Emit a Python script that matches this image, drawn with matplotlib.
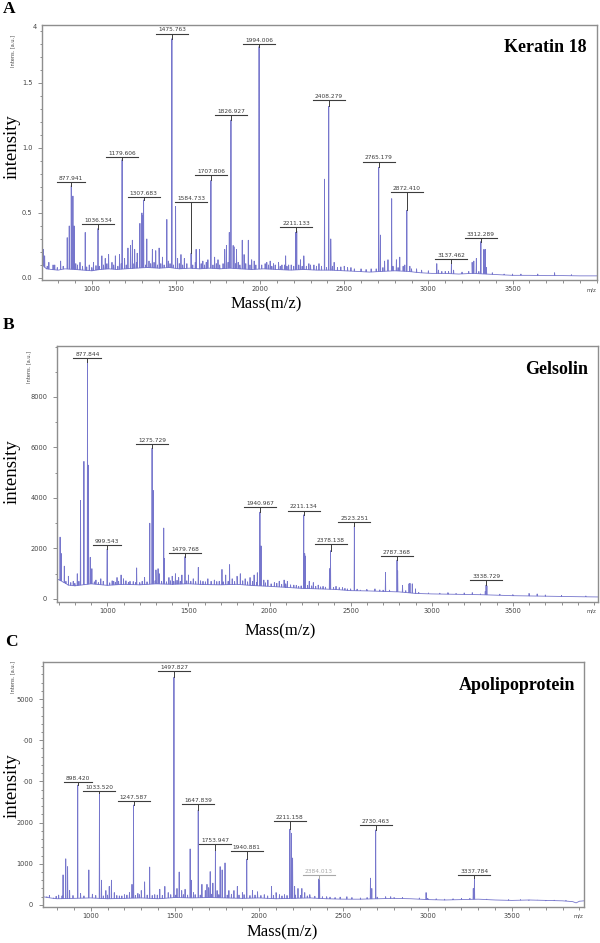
import numpy as np
import matplotlib
matplotlib.use("Agg")
import matplotlib.pyplot as plt
from matplotlib.ticker import FixedLocator, MultipleLocator

# ------------------------------------------------------------------ data
# Panel A : Keratin 18 (intensity x10^4)
a_base_mz = [706, 730, 760, 800, 840, 900, 950, 1000, 1050, 1100, 1150, 1200, 1260, 1330, 1400,
             1460, 1520, 1580, 1640, 1700, 1760, 1820, 1880, 1950, 2020, 2100, 2180, 2260, 2340,
             2420, 2500, 2580, 2650, 2720, 2800, 2880, 2950, 3020, 3100, 3180, 3260, 3340, 3420,
             3500, 3600, 3700, 3800, 3900, 4000]
a_base_int = [0.10, 0.07, 0.065, 0.06, 0.07, 0.065, 0.06, 0.055, 0.065, 0.07, 0.065, 0.07, 0.075,
              0.08, 0.075, 0.08, 0.07, 0.075, 0.07, 0.075, 0.07, 0.075, 0.07, 0.065, 0.07, 0.065,
              0.06, 0.065, 0.06, 0.06, 0.055, 0.05, 0.045, 0.05, 0.055, 0.05, 0.04, 0.035, 0.035,
              0.03, 0.035, 0.03, 0.025, 0.02, 0.02, 0.018, 0.018, 0.016, 0.016]
a_peak_mz = [712, 854, 866, 878, 888, 895, 961, 1037, 1180, 1241, 1286, 1298, 1303, 1308, 1327,
             1446, 1476, 1498, 1590, 1708, 1817, 1827, 1840, 1894, 1930, 1994, 2152, 2211, 2218,
             2383, 2408, 2420, 2705, 2715, 2782, 2872, 3050, 3137, 3260, 3312, 3330, 3338]
a_peak_int = [0.22, 0.31, 0.40, 0.71, 0.63, 0.40, 0.35, 0.38, 0.91, 0.29, 0.42, 0.50, 0.48, 0.60,
              0.30, 0.45, 1.84, 0.55, 0.19, 0.75, 0.35, 1.215, 0.25, 0.29, 0.29, 1.78, 0.17, 0.35,
              0.36, 0.76, 1.32, 0.30, 0.85, 0.33, 0.61, 0.52, 0.11, 0.115, 0.12, 0.28, 0.22, 0.22]
a_noise = [(720, 0.17), (745, 0.12), (780, 0.10), (815, 0.13), (905, 0.11), (930, 0.12),
           (985, 0.10), (1010, 0.12), (1060, 0.17), (1080, 0.15), (1100, 0.18), (1120, 0.12),
           (1140, 0.17), (1165, 0.18), (1195, 0.15), (1215, 0.23), (1230, 0.25), (1255, 0.22),
           (1270, 0.19), (1340, 0.13), (1360, 0.22), (1380, 0.21), (1400, 0.23), (1420, 0.16),
           (1455, 0.13), (1510, 0.15), (1530, 0.18), (1550, 0.15), (1620, 0.22), (1640, 0.22),
           (1660, 0.13), (1690, 0.14), (1730, 0.16), (1750, 0.14), (1790, 0.22), (1800, 0.25),
           (1845, 0.24), (1860, 0.22), (1870, 0.12), (1905, 0.18), (1950, 0.14), (1965, 0.13),
           (2040, 0.12), (2060, 0.13), (2080, 0.11), (2110, 0.12), (2130, 0.10), (2170, 0.10),
           (2240, 0.14), (2260, 0.17), (2290, 0.11), (2320, 0.10), (2350, 0.11), (2440, 0.12),
           (2500, 0.09), (2540, 0.08), (2660, 0.07), (2740, 0.13), (2760, 0.14), (2810, 0.14),
           (2830, 0.16), (2850, 0.09), (2890, 0.09), (2930, 0.07), (3060, 0.06), (3100, 0.05),
           (3150, 0.06), (3270, 0.13), (3285, 0.15), (3345, 0.08), (3450, 0.03), (3750, 0.04),
           (735, 0.09), (770, 0.10), (795, 0.08), (830, 0.09), (915, 0.10), (945, 0.09),
           (970, 0.085), (1000, 0.08), (1025, 0.095), (1045, 0.09), (1070, 0.10), (1090, 0.11),
           (1130, 0.10), (1155, 0.09), (1175, 0.11), (1205, 0.10), (1245, 0.11), (1265, 0.12),
           (1320, 0.10), (1350, 0.11), (1370, 0.12), (1390, 0.10), (1410, 0.11), (1430, 0.10),
           (1465, 0.11), (1485, 0.10), (1520, 0.11), (1540, 0.10), (1565, 0.11), (1600, 0.10),
           (1615, 0.12), (1650, 0.11), (1670, 0.10), (1680, 0.12), (1720, 0.10), (1740, 0.11),
           (1760, 0.10), (1780, 0.11), (1810, 0.12), (1855, 0.11), (1880, 0.10), (1915, 0.11),
           (1940, 0.10), (1975, 0.10), (2010, 0.10), (2030, 0.11), (2050, 0.10), (2070, 0.09),
           (2090, 0.10), (2120, 0.09), (2145, 0.10), (2160, 0.09), (2185, 0.10), (2200, 0.09),
           (2230, 0.10), (2250, 0.09), (2275, 0.09), (2300, 0.10), (2335, 0.09), (2365, 0.09),
           (2395, 0.08), (2430, 0.09), (2460, 0.08), (2480, 0.085), (2520, 0.08), (2560, 0.07),
           (2600, 0.07), (2630, 0.065), (2690, 0.07), (2730, 0.08), (2790, 0.09), (2820, 0.08),
           (2860, 0.10), (2900, 0.07), (2960, 0.06), (3000, 0.055), (3080, 0.05), (3120, 0.05),
           (3200, 0.045), (3240, 0.05), (3300, 0.05), (3380, 0.04), (3500, 0.03), (3550, 0.03),
           (3650, 0.03), (3850, 0.025)]
a_label_text = ["877.941", "1036.534", "1179.606", "1307.683", "1475.763", "1584.733", "1707.806",
                "1826.927", "1994.006", "2211.133", "2408.279", "2765.179", "2872.410", "3137.462",
                "3312.289"]
a_label_mz = [878, 1037, 1180, 1308, 1476, 1590, 1708, 1827, 1994, 2214, 2408, 2705, 2872, 3137, 3312]
a_label_y = [0.74, 0.415, 0.93, 0.62, 1.88, 0.585, 0.79, 1.25, 1.80, 0.39, 1.37, 0.895, 0.66, 0.146, 0.31]
a_yticks = [0.0, 0.5, 1.0, 1.5]
a_yticklabels = ["0.0", "0.5", "1.0", "1.5"]

# Panel B : Gelsolin
b_base_mz = [690, 720, 760, 800, 900, 1000, 1100, 1200, 1300, 1400, 1500, 1600, 1700, 1800, 1900,
             2000, 2100, 2200, 2300, 2400, 2500, 2600, 2700, 2800, 2900, 3000, 3100, 3200, 3300,
             3400, 3500, 3600, 3700, 3800, 3900, 4025]
b_base_int = [800, 700, 550, 520, 600, 540, 580, 560, 600, 580, 600, 570, 560, 580, 530, 500, 460,
              420, 400, 380, 330, 320, 300, 280, 220, 200, 190, 180, 170, 150, 130, 120, 110, 100,
              90, 80]
b_peak_mz = [709, 716, 735, 835, 856, 878, 884, 895, 905, 999.5, 1181, 1262, 1276, 1283, 1313, 1348,
             1352, 1479, 1561, 1707, 1754, 1925, 1941, 1948, 2211, 2217, 2221, 2370, 2376, 2523,
             2715, 2786, 2790, 2820, 2860, 2866, 3335, 3340]
b_peak_int = [2450, 1800, 1300, 3900, 5450, 9400, 5300, 1650, 1200, 1980, 1230, 3000, 5970, 4300,
              1200, 2810, 1600, 1680, 1250, 1170, 1360, 1040, 3440, 2100, 3330, 1800, 1700, 1200,
              1910, 2890, 1050, 1540, 1120, 540, 600, 620, 550, 520]
b_noise = [(760, 900), (790, 700), (815, 1000), (930, 750), (960, 800), (1040, 700), (1060, 850),
           (1085, 950), (1100, 800), (1140, 700), (1200, 650), (1230, 850), (1300, 1150),
           (1320, 1000), (1380, 850), (1400, 900), (1420, 1000), (1440, 850), (1460, 950),
           (1500, 950), (1530, 800), (1590, 700), (1620, 800), (1660, 750), (1690, 700),
           (1730, 950), (1770, 800), (1800, 900), (1820, 1000), (1850, 800), (1880, 850),
           (1905, 950), (1965, 750), (1990, 750), (2030, 650), (2060, 700), (2090, 750),
           (2110, 700), (2150, 550), (2180, 500), (2245, 700), (2270, 650), (2300, 550),
           (2330, 500), (2410, 500), (2450, 450), (2480, 400), (2560, 350), (2650, 400),
           (2700, 350), (2880, 600), (2900, 400), (3100, 250), (3250, 250), (3330, 300),
           (3600, 220), (3650, 200),
           (745, 700), (775, 650), (800, 620), (825, 700), (920, 680), (945, 650), (975, 700),
           (1015, 640), (1030, 720), (1050, 660), (1070, 700), (1115, 720), (1130, 660),
           (1160, 690), (1175, 650), (1215, 700), (1245, 680), (1295, 720), (1335, 700),
           (1365, 680), (1390, 720), (1410, 700), (1430, 740), (1450, 700), (1490, 720),
           (1515, 700), (1545, 690), (1575, 720), (1605, 680), (1640, 700), (1675, 690),
           (1715, 680), (1745, 700), (1785, 690), (1835, 720), (1865, 680), (1895, 700),
           (1920, 650), (1975, 640), (2010, 600), (2045, 620), (2075, 580), (2100, 600),
           (2130, 560), (2165, 540), (2195, 520), (2235, 540), (2260, 520), (2285, 500),
           (2315, 480), (2345, 470), (2395, 460), (2430, 450), (2465, 420), (2500, 400),
           (2540, 390), (2600, 380), (2680, 360), (2740, 350), (2840, 330), (2920, 260),
           (2980, 240), (3050, 230), (3150, 220), (3200, 240), (3300, 200), (3420, 190),
           (3500, 170), (3700, 160), (3800, 140), (3950, 120)]
b_label_text = ["877.844", "999.543", "1275.729", "1479.768", "1940.967", "2211.134", "2378.138",
                "2523.251", "2787.368", "3338.729"]
b_label_mz = [878, 999.5, 1276, 1479, 1941, 2211, 2376, 2523, 2786, 3335]
b_label_y = [9555, 2140, 6140, 1835, 3640, 3500, 2180, 3050, 1715, 750]
b_yticks = [0, 2000, 4000, 6000, 8000]
b_yticklabels = ["0", "2000", "4000", "6000", "8000"]

# Panel C : Apolipoprotein
c_base_mz = [717, 760, 800, 900, 1000, 1100, 1200, 1300, 1400, 1500, 1600, 1700, 1800, 1900, 2000,
             2100, 2200, 2300, 2400, 2500, 2600, 2700, 2800, 2900, 3000, 3100, 3200, 3300, 3400,
             3500, 3600, 3700, 3800, 3860, 3880, 3900, 3927]
c_base_int = [200, 170, 150, 160, 170, 150, 160, 170, 150, 180, 170, 180, 170, 160, 170, 150, 160,
              170, 150, 140, 140, 150, 160, 150, 130, 120, 130, 140, 120, 110, 120, 110, 100, 80,
              50, 90, 100]
c_peak_mz = [836, 852, 863, 923, 989, 1052, 1064, 1110, 1123, 1245, 1254, 1320, 1350, 1440, 1494,
             1512, 1525, 1590, 1597, 1638, 1660, 1709, 1725, 1740, 1768, 1780, 1797, 1926, 2073,
             2182, 2191, 2198, 2210, 2253, 2353, 2358, 2660, 2668, 2691, 2990, 3270, 3277]
c_peak_int = [730, 1120, 930, 2910, 850, 2710, 600, 450, 600, 500, 2427, 560, 920, 450, 5530, 400,
              800, 1360, 600, 2305, 500, 810, 530, 1335, 930, 850, 1020, 1110, 450, 1840, 1740,
              1140, 450, 400, 630, 620, 650, 400, 1820, 300, 400, 650]
c_noise = [(740, 200), (780, 170), (810, 240), (875, 350), (940, 280), (1010, 260), (1090, 350),
           (1140, 300), (1170, 220), (1200, 250), (1230, 300), (1280, 280), (1300, 350),
           (1380, 250), (1410, 380), (1460, 300), (1540, 350), (1560, 380), (1610, 300),
           (1680, 350), (1690, 500), (1700, 420), (1750, 350), (1820, 350), (1850, 350),
           (1870, 450), (1900, 300), (1960, 350), (1990, 320), (2030, 250), (2100, 300),
           (2120, 250), (2150, 250), (2230, 400), (2270, 300), (2300, 250), (2400, 200),
           (2450, 180), (2520, 200), (2600, 170), (2750, 200), (2800, 180), (2900, 150),
           (3050, 150), (3100, 140), (3200, 160), (3400, 120), (3600, 110), (3700, 100),
           (755, 230), (795, 210), (830, 220), (895, 230), (960, 220), (1030, 230), (1075, 220),
           (1100, 240), (1155, 230), (1185, 220), (1215, 240), (1265, 230), (1290, 250),
           (1335, 240), (1365, 230), (1395, 240), (1425, 230), (1475, 250), (1505, 240),
           (1550, 250), (1575, 240), (1620, 250), (1650, 240), (1715, 260), (1760, 250),
           (1810, 240), (1835, 260), (1880, 240), (1910, 250), (1945, 230), (1975, 240),
           (2010, 230), (2050, 220), (2085, 230), (2135, 220), (2165, 230), (2215, 240),
           (2245, 230), (2285, 220), (2330, 210), (2375, 200), (2420, 190), (2480, 190),
           (2550, 180), (2640, 180), (2700, 190), (2780, 200), (2850, 180), (2950, 170),
           (3000, 160), (3150, 150), (3250, 160), (3350, 140), (3480, 130), (3550, 130),
           (3650, 120), (3750, 115), (3820, 110)]
c_label_text = ["898.420", "1033.520", "1247.587", "1497.827", "1647.839", "1753.947", "1940.881",
                "2211.158", "2384.013", "2730.463", "3337.784"]
c_label_mz = [923, 1052, 1254, 1494, 1638, 1740, 1926, 2182, 2355, 2691, 3277]
c_label_y = [2990, 2775, 2524, 5690, 2444, 1480, 1310, 2046, 730, 1940, 730]
c_yticks = [0, 1000, 2000, 3000, 4000, 5000]
c_yticklabels = ["0", "1000", "2000", "·00", "·00", "5000"]

x_ticks = [1000, 1500, 2000, 2500, 3000, 3500]
x_ticklabels = ["1000", "1500", "2000", "2500", "3000", "3500"]

# ------------------------------------------------------------------ style
W, H = 600, 943
SPEC = "#7676cc"
SPINE = "#8e8e8e"
LABC = "#3c3c3c"
SERIF = ["Liberation Serif", "DejaVu Serif"]

fig = plt.figure(figsize=(W / 100, H / 100), dpi=100)


def add_axes(l, r, t, b):
    return fig.add_axes([l / W, 1 - b / H, (r - l) / W, (b - t) / H])


def draw_panel(ax, xlim, ylim, base_mz, base_int, peak_mz, peak_int, noise,
               lab_text, lab_mz, lab_y, lab_col, yticks, yticklabels, yminor):
    ax.set_xlim(xlim)
    ax.set_ylim(ylim)
    base_mz = np.asarray(base_mz, float)
    base_int = np.asarray(base_int, float)
    noise_mz = np.array([p[0] for p in noise], float)
    noise_int = np.array([p[1] for p in noise], float)
    sp_mz = np.concatenate([np.asarray(peak_mz, float), noise_mz])
    sp_int = np.concatenate([np.asarray(peak_int, float), noise_int])
    # continuous spectrum trace: baseline + narrow spikes
    xs = list(base_mz)
    ys = list(base_int)
    for m, v in zip(sp_mz, sp_int):
        b0 = np.interp(m, base_mz, base_int)
        xs += [m - 1.5, m, m + 1.5]
        ys += [b0, v, b0]
    order = np.argsort(xs, kind="stable")
    xs = np.asarray(xs)[order]
    ys = np.asarray(ys)[order]
    ax.plot(xs, ys, color=SPEC, lw=0.6)

    # peak labels
    ax_w_px = ax.get_position().width * W
    px_per_mz = ax_w_px / (xlim[1] - xlim[0])
    pk = np.asarray(peak_mz, float)
    for t, m, y, c in zip(lab_text, lab_mz, lab_y, lab_col):
        tip = peak_int[int(np.argmin(np.abs(pk - m)))]
        half = 4.0 * len(t) / 2 / px_per_mz
        ax.plot([m - half, m + half], [y, y], color=c, lw=0.8)
        ax.plot([m, m], [y, tip], color=c, lw=0.7)
        ax.annotate(t, (m, y), xytext=(0, 0.8), textcoords="offset points",
                    ha="center", va="bottom", fontsize=4.2, color=c)

    for s in ax.spines.values():
        s.set_color(SPINE)
        s.set_linewidth(1.0)
    ax.xaxis.set_major_locator(FixedLocator(x_ticks))
    ax.set_xticklabels(x_ticklabels)
    ax.xaxis.set_minor_locator(MultipleLocator(100))
    ax.yaxis.set_major_locator(FixedLocator(yticks))
    ax.set_yticklabels(yticklabels)
    ax.yaxis.set_minor_locator(MultipleLocator(yminor))
    ax.tick_params(which="both", direction="out", color=SPINE, labelsize=4.8,
                   labelcolor="#444444", width=0.7)
    ax.tick_params(which="major", length=3, pad=1.5)
    ax.tick_params(which="minor", length=1.8)
    ax.tick_params(axis="y", pad=4)
    ax.set_facecolor("white")


axA = add_axes(42.3, 597, 25, 279.5)
axB = add_axes(57, 598, 346, 602)
axC = add_axes(43, 584, 662, 907)

draw_panel(axA, (706, 4002), (-0.012, 1.946), a_base_mz, a_base_int, a_peak_mz, a_peak_int,
           a_noise, a_label_text, a_label_mz, a_label_y,
           [LABC] * len(a_label_text), a_yticks, a_yticklabels, 0.1)
draw_panel(axB, (690, 4025), (-120, 10020), b_base_mz, b_base_int, b_peak_mz, b_peak_int,
           b_noise, b_label_text, b_label_mz, b_label_y,
           [LABC] * len(b_label_text), b_yticks, b_yticklabels, 1000)
c_cols = [LABC] * len(c_label_text)
c_cols[8] = "#a8a8a8"
draw_panel(axC, (717, 3927), (-50, 5900), c_base_mz, c_base_int, c_peak_mz, c_peak_int,
           c_noise, c_label_text, c_label_mz, c_label_y,
           c_cols, c_yticks, c_yticklabels, 200)


def ftext(x, y, s, **kw):
    fig.text(x / W, 1 - y / H, s, **kw)


# panel letters
for (x, y, s) in [(9, 9, "A"), (9, 325, "B"), (11, 642, "C")]:
    ftext(x, y, s, fontsize=12.5, fontweight="bold", family=SERIF, ha="center", va="center")

# protein names
ftext(587, 48, "Keratin 18", fontsize=13, fontweight="bold", family=SERIF, ha="right", va="center")
ftext(588, 369, "Gelsolin", fontsize=13, fontweight="bold", family=SERIF, ha="right", va="center")
ftext(575, 686, "Apolipoprotein", fontsize=13, fontweight="bold", family=SERIF, ha="right", va="center")

# axis titles
for (x, y) in [(266, 304), (280, 631), (282, 932)]:
    ftext(x, y, "Mass(m/z)", fontsize=12, family=SERIF, ha="center", va="center")
for y in [147, 472, 786]:
    ftext(12, y, "intensity", fontsize=13.5, family=SERIF, ha="center", va="center", rotation=90)

# small instrument labels
for (x, y) in [(13, 51), (29, 367), (13, 677)]:
    ftext(x, y, "Intens. [a.u.]", fontsize=3.6, color="#444444", ha="center", va="center", rotation=90)
ftext(35, 27, "4", fontsize=4.8, color="#444444", ha="center", va="center")
for (x, y) in [(591, 290), (591, 611), (578, 916)]:
    ftext(x, y, "m/z", fontsize=3.8, color="#444444", ha="center", va="center")

fig.savefig("out.png", dpi=100, facecolor="white")
